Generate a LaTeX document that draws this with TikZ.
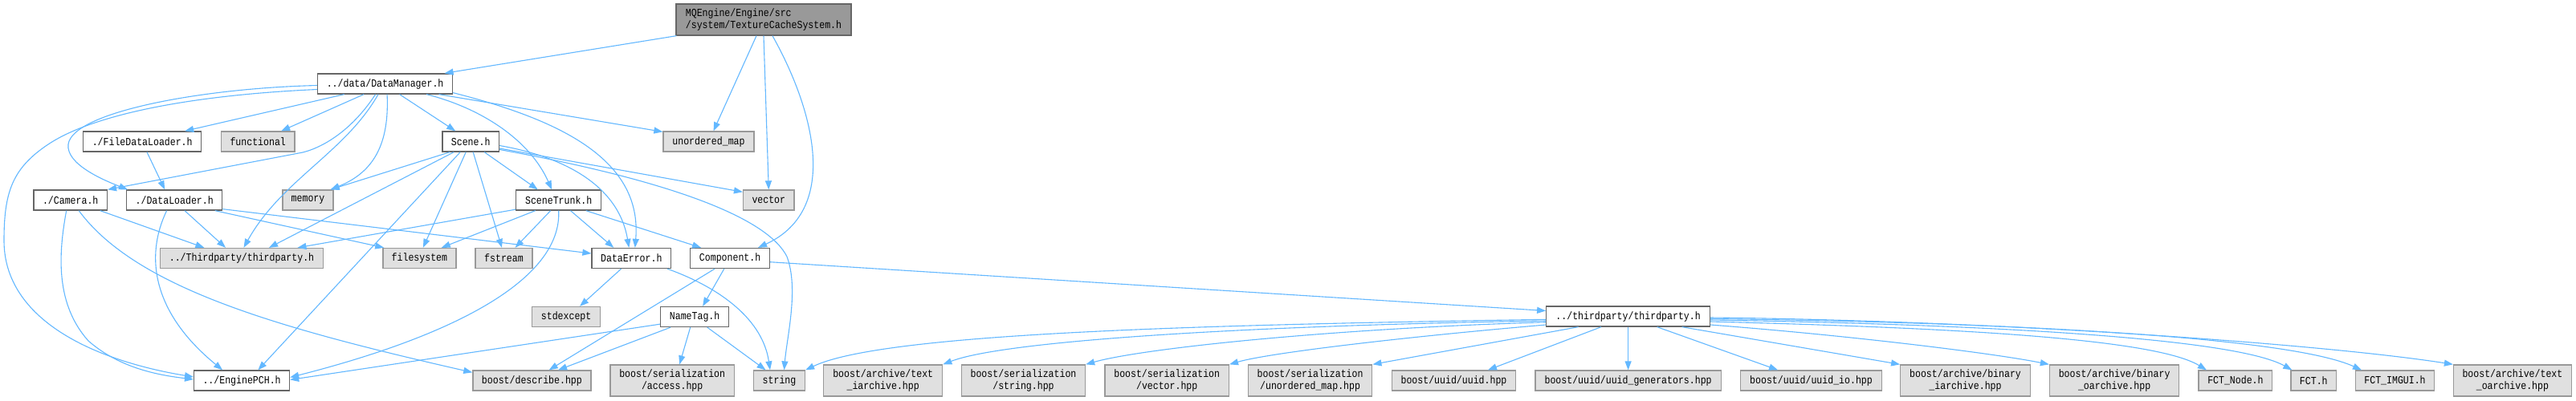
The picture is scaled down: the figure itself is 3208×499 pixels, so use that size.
\documentclass[tikz,border=0pt]{standalone}
\usepackage{fontspec}
\newfontfamily\dfont{Liberation Mono}[FakeStretch=0.85]
\usetikzlibrary{arrows.meta}
\definecolor{edgec}{HTML}{63B8FF}
\definecolor{wborder}{HTML}{666666}
\definecolor{gfill}{HTML}{E0E0E0}
\definecolor{gborder}{HTML}{999999}
\definecolor{rootfill}{HTML}{999999}
\tikzset{
  base/.style={rectangle, line width=1.3pt, inner sep=0pt, minimum height=25pt,
    font=\dfont\fontsize{13.6}{14.5}\selectfont, text=black, align=center},
  wbox/.style={base, draw=wborder, fill=white},
  gbox/.style={base, draw=gborder, fill=gfill},
  rootbox/.style={base, draw=wborder, fill=rootfill, align=left},
  tall/.style={minimum height=39pt},
  dep/.style={draw=edgec, line width=1.1pt, -{Triangle[length=11pt,width=8pt]}},
}
\begin{document}
\begin{tikzpicture}[x=1pt,y=-1pt]
\useasboundingbox[fill=white] (0,0) rectangle (3208,499);
% nodes
\node[rootbox, minimum width=218pt, minimum height=39pt] (tcs) at (951,24.5) {MQEngine/Engine/src\\/system/TextureCacheSystem.h};
\node[wbox, minimum width=168pt] (dm) at (479.6,104.5) {../data/DataManager.h};
\node[wbox, minimum width=147pt] (fdl) at (177.2,176.5) {./FileDataLoader.h};
\node[gbox, minimum width=91.6pt] (func) at (321.2,176.5) {functional};
\node[wbox, minimum width=70.5pt] (scene) at (586.2,176.5) {Scene.h};
\node[gbox, minimum width=113pt] (umap) at (882.5,176.5) {unordered\_map};
\node[wbox, minimum width=91.5pt] (cam) at (87.7,249.5) {./Camera.h};
\node[wbox, minimum width=119pt] (dl) at (217.2,249.5) {./DataLoader.h};
\node[gbox, minimum width=63pt] (mem) at (383.5,249.5) {memory};
\node[wbox, minimum width=106pt] (st) at (695.7,249.5) {SceneTrunk.h};
\node[gbox, minimum width=63.4pt] (vec) at (957.3,249.5) {vector};
\node[gbox, minimum width=203pt] (tpu) at (301,322) {../Thirdparty/thirdparty.h};
\node[gbox, minimum width=91pt] (fs) at (522.4,322) {filesystem};
\node[gbox, minimum width=71pt] (fstr) at (627.5,322) {fstream};
\node[wbox, minimum width=98.6pt] (de) at (786.3,322) {DataError.h};
\node[wbox, minimum width=98.8pt] (comp) at (909.1,322) {Component.h};
\node[gbox, minimum width=85pt] (stdx) at (705.1,395) {stdexcept};
\node[wbox, minimum width=85pt] (nt) at (865.1,395) {NameTag.h};
\node[wbox, minimum width=203.7pt] (tpl) at (2027.6,394.5) {../thirdparty/thirdparty.h};
\node[wbox, minimum width=119pt] (pch) at (301.1,474.5) {../EnginePCH.h};
\node[gbox, minimum width=147pt] (bd) at (662.4,474.5) {boost/describe.hpp};
\node[gbox, tall, minimum width=154.6pt] (acc) at (837.2,474.5) {boost/serialization\\/access.hpp};
\node[gbox, minimum width=64pt] (str) at (970.5,474.5) {string};
\node[gbox, tall, minimum width=148pt] (tia) at (1099.7,474.5) {boost/archive/text\\\_iarchive.hpp};
\node[gbox, tall, minimum width=154pt] (sstr) at (1274.5,474.5) {boost/serialization\\/string.hpp};
\node[gbox, tall, minimum width=154.4pt] (svec) at (1453.2,474.5) {boost/serialization\\/vector.hpp};
\node[gbox, tall, minimum width=154.4pt] (sumap) at (1631.6,474.5) {boost/serialization\\/unordered\_map.hpp};
\node[gbox, minimum width=154pt] (uuid) at (1810.5,474.5) {boost/uuid/uuid.hpp};
\node[gbox, minimum width=231.5pt] (uuidg) at (2027.6,474.5) {boost/uuid/uuid\_generators.hpp};
\node[gbox, minimum width=175.5pt] (uuidio) at (2255.5,474.5) {boost/uuid/uuid\_io.hpp};
\node[gbox, tall, minimum width=161.6pt] (bia) at (2447.5,474.5) {boost/archive/binary\\\_iarchive.hpp};
\node[gbox, tall, minimum width=161.3pt] (boa) at (2633.1,474.5) {boost/archive/binary\\\_oarchive.hpp};
\node[gbox, minimum width=91.8pt] (fctn) at (2783.9,474.5) {FCT\_Node.h};
\node[gbox, minimum width=56.6pt] (fct) at (2881.3,474.5) {FCT.h};
\node[gbox, minimum width=98.5pt] (fcti) at (2982.5,474.5) {FCT\_IMGUI.h};
\node[gbox, tall, minimum width=146.8pt] (toa) at (3128.9,474.5) {boost/archive/text\\\_oarchive.hpp};
% edges from root
\draw[dep] ([xshift=1pt]tcs.south west) -- ([xshift=74pt]dm.north);
\draw[dep] ([xshift=-9pt]tcs.south) -- ([xshift=6pt]umap.north);
\draw[dep] (tcs.south) -- (vec.north);
\draw[dep] ([xshift=11pt]tcs.south) .. controls (1010,130) and (1050,260) .. ([xshift=35pt]comp.north);
% DataManager
\draw[dep] ([xshift=-51pt]dm.south) -- ([xshift=53pt]fdl.north);
\draw[dep] ([xshift=-26.5pt]dm.south) -- ([xshift=29pt]func.north);
\draw[dep] ([xshift=-12pt]dm.south) .. controls (440,160) and (405,183) .. (377,190) -- (cam.north east);
\draw[dep] ([xshift=-8.6pt]dm.south) .. controls (430,190) and (350,225) .. ([xshift=2.5pt]tpu.north);
\draw[dep] ([xshift=2.5pt]dm.south) .. controls (485,180) and (465,215) .. ([xshift=-4pt]mem.north east);
\draw[dep] ([yshift=-2pt]dm.west) .. controls (250,110) and (90,140) .. (85,180) .. controls (82,205) and (130,225) .. ([xshift=2pt]dl.north west);
\draw[dep] ([yshift=-7pt]dm.west) .. controls (250,118) and (120,140) .. (60,180) .. controls (15,210) and (5,240) .. (5,300) .. controls (5,400) and (120,450) .. ([yshift=4.5pt]pch.west);
\draw[dep] ([xshift=18pt]dm.south) -- ([xshift=-19pt]scene.north);
\draw[dep] ([xshift=51.6pt]dm.south) .. controls (600,135) and (660,175) .. ([xshift=-8.5pt]st.north);
\draw[dep] ([xshift=67pt]dm.south) -- ([yshift=-1pt]umap.north west);
\draw[dep] ([yshift=2pt]dm.south east) .. controls (700,150) and (800,200) .. ([xshift=4.5pt]de.north);
% Scene
\draw[dep] ([yshift=-5pt]scene.east) .. controls (700,195) and (770,230) .. ([xshift=-3pt]de.north);
\draw[dep] ([yshift=-8.5pt]scene.east) -- ([yshift=-3pt]vec.north west);
\draw[dep] ([yshift=-10pt]scene.east) .. controls (780,215) and (950,260) .. (980,320) .. controls (995,360) and (980,420) .. ([xshift=6pt]str.north);
\draw[dep] ([xshift=-26pt]scene.south) -- ([xshift=-4pt]mem.north east);
\draw[dep] ([xshift=-21pt]scene.south) -- ([xshift=34pt]tpu.north);
\draw[dep] ([xshift=-13pt]scene.south) -- ([xshift=20.3pt]pch.north);
\draw[dep] ([xshift=-6pt]scene.south) -- ([xshift=4.5pt]fs.north);
\draw[dep] ([xshift=3pt]scene.south) -- ([xshift=-2.5pt]fstr.north);
\draw[dep] ([xshift=17pt]scene.south) -- ([xshift=-26pt]st.north);
% Camera
\draw[dep] ([xshift=37pt]cam.south) -- ([xshift=-46.6pt]tpu.north);
\draw[dep] ([xshift=-5pt]cam.south) .. controls (72,320) and (70,380) .. (110,425) .. controls (150,460) and (200,468) .. ([yshift=1.5pt]pch.west);
\draw[dep] ([xshift=10.5pt]cam.south) .. controls (170,360) and (350,410) .. ([yshift=-3pt]bd.north west);
% DataLoader
\draw[dep] ([xshift=-9.6pt]dl.south) .. controls (180,320) and (190,390) .. ([xshift=-24pt]pch.north);
\draw[dep] ([xshift=12.8pt]dl.south) -- ([xshift=-20pt]tpu.north);
\draw[dep] ([xshift=50.6pt]dl.south) -- ([xshift=2pt]fs.north west);
\draw[dep] ([yshift=2pt]dl.south east) -- ([yshift=6pt]de.west);
\draw[dep] ([xshift=5.8pt]fdl.south) -- ([xshift=-12pt]dl.north);
% SceneTrunk
\draw[dep] ([yshift=1.5pt]st.south west) -- ([xshift=69.5pt]tpu.north);
\draw[dep] ([xshift=-29pt]st.south) -- ([xshift=27.4pt]fs.north);
\draw[dep] ([xshift=-10pt]st.south) -- ([xshift=14pt]fstr.north);
\draw[dep] ([xshift=14.8pt]st.south) -- ([xshift=-22pt]de.north);
\draw[dep] ([xshift=34pt]st.south) -- ([xshift=-36pt]comp.north);
\draw[dep] (st.south) .. controls (700,350) and (560,420) .. ([yshift=4pt]pch.east);
% DataError
\draw[dep] ([xshift=-12.7pt]de.south) -- ([xshift=17pt]stdx.north);
\draw[dep] ([xshift=44.7pt]de.south) .. controls (900,360) and (950,400) .. ([xshift=-11.5pt]str.north);
% Component
\draw[dep] ([xshift=-19pt]comp.south) -- ([xshift=21.3pt]bd.north);
\draw[dep] ([xshift=-7.3pt]comp.south) -- ([xshift=10pt]nt.north);
\draw[dep] ([yshift=-4.7pt]comp.east) -- ([yshift=7pt]tpl.west);
% NameTag
\draw[dep] ([yshift=4pt]nt.south west) -- ([yshift=1pt]pch.east);
\draw[dep] ([xshift=-30pt]nt.south) -- ([xshift=32.7pt]bd.north);
\draw[dep] ([xshift=-5.4pt]nt.south) -- ([xshift=9pt]acc.north);
\draw[dep] ([xshift=15.7pt]nt.south) -- ([xshift=-17pt]str.north);
% thirdparty.h
\draw[dep] ([yshift=-3.8pt]tpl.west) .. controls (1500,405) and (1100,415) .. (str.north east);
\draw[dep] ([yshift=-5.5pt]tpl.west) .. controls (1550,406) and (1250,425) .. (tia.north east);
\draw[dep] ([yshift=-7.2pt]tpl.west) .. controls (1650,410) and (1420,435) .. (sstr.north east);
\draw[dep] ([yshift=-10.5pt]tpl.west) .. controls (1750,420) and (1580,440) .. (svec.north east);
\draw[dep] ([xshift=-62pt]tpl.south) -- (sumap.north east);
\draw[dep] ([xshift=-33.6pt]tpl.south) -- ([xshift=42.5pt]uuid.north);
\draw[dep] (tpl.south) -- (uuidg.north);
\draw[dep] ([xshift=36pt]tpl.south) -- ([xshift=-41.5pt]uuidio.north);
\draw[dep] ([xshift=67pt]tpl.south) -- (bia.north west);
\draw[dep] ([yshift=-10.5pt]tpl.east) .. controls (2300,418) and (2480,440) .. (boa.north west);
\draw[dep] ([yshift=-6.5pt]tpl.east) .. controls (2400,408) and (2680,420) .. ([xshift=-36pt]fctn.north);
\draw[dep] ([yshift=-4.5pt]tpl.east) .. controls (2450,404) and (2780,420) .. ([xshift=-27pt]fct.north);
\draw[dep] ([yshift=-3pt]tpl.east) .. controls (2500,402) and (2850,420) .. ([xshift=-41.5pt]fcti.north);
\draw[dep] ([yshift=-1.5pt]tpl.east) .. controls (2500,400) and (2900,430) .. (toa.north west);
\end{tikzpicture}
\end{document}
